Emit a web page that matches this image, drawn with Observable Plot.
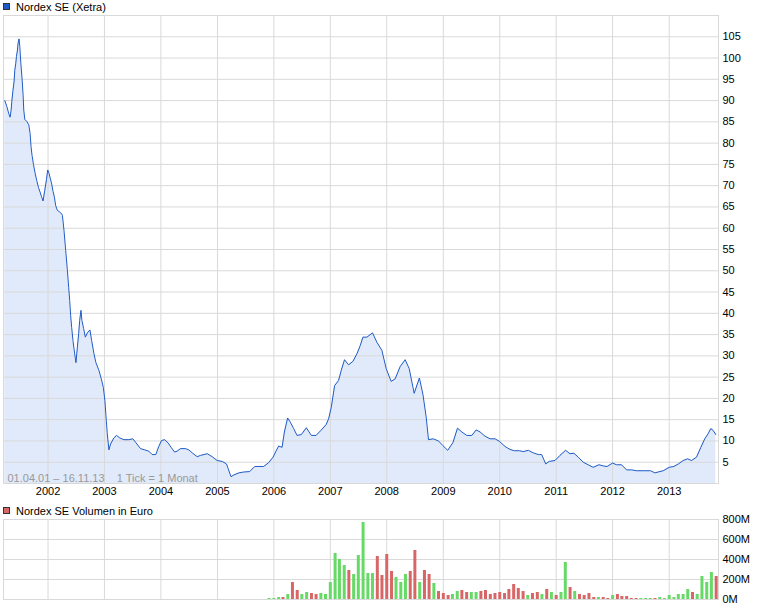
<!DOCTYPE html>
<html><head><meta charset="utf-8">
<script src="https://cdn.jsdelivr.net/npm/d3@7"></script>
<script src="https://cdn.jsdelivr.net/npm/@observablehq/plot@0.6"></script>
<style>
body{margin:0;background:#fff;}
#wrap{position:relative;width:760px;height:608px;font-family:"Liberation Sans",Arial,sans-serif;font-size:11px;color:#000;overflow:hidden;}
#wrap svg{position:absolute;left:0;}
.leg{position:absolute;left:16px;line-height:12px;white-space:nowrap;}
.sw{position:absolute;left:3px;width:5px;height:5px;border:1px solid #333;}
</style>
</head><body>
<div id="wrap"></div>
<script>
// Price (decimal year, EUR)
const priceT = [
2001.234,2001.270,2001.305,2001.328,2001.346,2001.358,2001.376,2001.399,2001.411,2001.429,2001.441,2001.459,2001.469,2001.487,2001.500,2001.517,2001.540,2001.558,2001.570,2001.588,2001.623,2001.659,2001.682,2001.699,2001.717,2001.742,2001.770,2001.800,2001.830,2001.859,2001.883,2001.912,2001.942,2001.972,2001.995,
2002.018,2002.042,2002.065,2002.088,2002.113,2002.136,2002.166,2002.207,2002.242,2002.255,2002.283,2002.313,2002.343,2002.366,2002.384,2002.401,2002.419,2002.442,2002.472,2002.495,2002.520,2002.543,2002.561,2002.584,2002.601,2002.631,2002.661,2002.697,2002.743,2002.773,2002.814,2002.849,2002.902,2002.944,2002.980,
2003.008,2003.033,2003.050,2003.079,2003.109,2003.167,2003.215,2003.273,2003.344,2003.432,2003.503,2003.551,2003.639,2003.715,2003.786,2003.846,2003.910,2003.963,
2004.011,2004.069,2004.129,2004.182,2004.241,2004.288,2004.347,2004.435,2004.494,2004.554,2004.642,2004.701,2004.819,2004.907,2004.996,
2005.084,2005.160,2005.190,2005.240,2005.289,2005.381,2005.466,2005.572,2005.661,2005.820,2005.908,2005.986,
2006.045,2006.085,2006.145,2006.186,2006.244,2006.292,2006.351,2006.411,2006.487,2006.575,2006.664,2006.747,2006.835,2006.924,2006.970,
2007.017,2007.076,2007.146,2007.194,2007.252,2007.323,2007.401,2007.472,2007.530,2007.578,2007.649,2007.748,2007.825,2007.914,2007.990,
2008.078,2008.149,2008.238,2008.326,2008.397,2008.485,2008.577,2008.639,2008.697,2008.738,2008.821,2008.915,2008.993,
2009.078,2009.170,2009.251,2009.329,2009.417,2009.506,2009.582,2009.653,2009.741,2009.829,2009.918,2009.994,
2010.095,2010.183,2010.259,2010.347,2010.418,2010.507,2010.595,2010.683,2010.744,2010.814,2010.878,2010.979,
2011.067,2011.168,2011.244,2011.315,2011.391,2011.479,2011.568,2011.656,2011.757,2011.845,2011.904,2011.999,
2012.070,2012.158,2012.247,2012.335,2012.423,2012.540,2012.671,2012.747,2012.805,2012.894,
2013.000,2013.083,2013.162,2013.248,2013.326,2013.396,2013.485,2013.561,2013.631,2013.690,2013.737,2013.778,2013.826
];
const priceV = [
90,88.6,86.9,86.1,87.7,89.8,92.1,94.6,97.1,98.8,100.4,101.9,103.5,104.5,102.7,99,95.1,91.4,87.8,85.6,85.1,84.3,82.3,79.2,77.1,75,73,71.2,69.6,68.5,67.5,66.4,68.9,71.4,73.7,
72.9,71.6,70.4,68.7,67.3,65.3,64.2,63.8,63.4,63,59.5,54.8,50.1,46.1,43,39.5,36.7,33.6,30.5,28.4,32,35.2,38.3,40.7,38.3,36.4,34.4,35.4,36.1,33.6,30.5,28.4,26.6,24.6,22.6,
19.5,14.8,11.7,7.9,9.3,10.7,11.3,10.7,10.3,10.3,10.5,9.7,8.2,7.9,7.6,6.8,6.8,8.7,
10.1,10.3,9.5,8.5,7.4,7.6,8.2,8.2,7.9,7.2,6.3,6.6,7.0,6.3,5.4,
5.2,4.6,3.5,1.6,2.0,2.5,2.7,2.8,4.0,4.0,4.9,6.2,
7.8,8.8,8.5,12.1,15.4,14.4,12.9,11.3,11.5,13.1,11.3,11.3,12.5,13.8,15.2,
17.9,23.0,24.2,26.6,29.1,27.9,28.7,30.5,32.4,34.4,34.4,35.4,33.2,31.3,27.0,
24.0,24.6,27.5,29.1,27.0,21.2,24.8,21.0,15.6,10.3,10.5,10.0,8.9,
7.8,9.6,13.0,12.1,11.3,11.3,12.6,12.1,11.1,10.5,10.5,9.9,
8.7,8.0,7.7,7.7,7.5,7.8,7.2,6.8,6.8,4.6,5.2,5.4,
6.6,7.8,7.0,7.1,6.2,5.0,4.4,3.8,4.4,4.1,4.0,4.8,
4.4,4.4,3.2,3.2,3.0,3.0,3.0,2.5,2.7,3.0,
3.8,4.0,4.6,5.4,5.8,5.4,6.2,8.5,10.5,11.7,12.9,12.5,11.5
];
// Volume (million EUR per month), u = up month (green), d = down month (red)
const volMonths = [
"2005-12",
"2006-01","2006-02","2006-03","2006-04","2006-05","2006-06","2006-07","2006-08","2006-09","2006-10","2006-11","2006-12",
"2007-01","2007-02","2007-03","2007-04","2007-05","2007-06","2007-07","2007-08","2007-09","2007-10","2007-11","2007-12",
"2008-01","2008-02","2008-03","2008-04","2008-05","2008-06","2008-07","2008-08","2008-09","2008-10","2008-11","2008-12",
"2009-01","2009-02","2009-03","2009-04","2009-05","2009-06","2009-07","2009-08","2009-09","2009-10","2009-11","2009-12",
"2010-01","2010-02","2010-03","2010-04","2010-05","2010-06","2010-07","2010-08","2010-09","2010-10","2010-11","2010-12",
"2011-01","2011-02","2011-03","2011-04","2011-05","2011-06","2011-07","2011-08","2011-09","2011-10","2011-11","2011-12",
"2012-01","2012-02","2012-03","2012-04","2012-05","2012-06","2012-07","2012-08","2012-09","2012-10","2012-11","2012-12",
"2013-01","2013-02","2013-03","2013-04","2013-05","2013-06","2013-07","2013-08","2013-09","2013-10","2013-11"
];
const volValues = [
10,
10,20,20,50,170,90,50,70,60,50,60,50,
170,460,400,340,290,250,440,770,260,260,430,240,
450,280,220,170,250,280,490,170,290,250,160,80,
60,40,50,80,90,70,70,70,80,90,50,60,
70,60,100,150,110,80,40,60,70,50,100,70,
40,70,370,120,80,50,40,60,20,20,20,10,
40,50,30,30,10,10,10,10,10,10,20,10,
40,20,50,50,100,70,50,230,170,270,230
];
const volDir = [
"u",
"u","u","d","u","d","d","u","u","d","d","u","u",
"u","u","u","u","d","u","u","u","u","u","d","d",
"d","d","u","u","u","d","d","u","d","d","u","d",
"d","d","u","u","d","d","u","u","d","d","d","d",
"d","d","d","d","d","d","u","d","d","u","d","u",
"d","u","u","d","u","d","d","d","d","u","d","d",
"u","d","d","d","d","d","u","u","u","d","u","u",
"u","u","u","u","u","d","u","u","u","u","d"
];
const yearTicks = [2002,2003,2004,2005,2006,2007,2008,2009,2010,2011,2012,2013];
const priceTicks = [5,10,15,20,25,30,35,40,45,50,55,60,65,70,75,80,85,90,95,100,105];
const volTicks = [0,200,400,600,800];
const titlePrice = "Nordex SE (Xetra)";
const titleVolume = "Nordex SE Volumen in Euro";
const note = "01.04.01 \u2013 16.11.13\u00a0\u00a0\u00a0 1 Tick = 1 Monat";

function yearToDate(t){const y=Math.floor(t);const a=Date.UTC(y,0,1),b=Date.UTC(y+1,0,1);return new Date(a+(t-y)*(b-a));}
const price = priceT.map((t,i)=>({date:yearToDate(t),value:priceV[i]}));
const volume = volMonths.map((m,i)=>({date:new Date(m+"-01T00:00:00Z"),value:volValues[i],dir:volDir[i]}));
const yearDates = yearTicks.map(y=>new Date(Date.UTC(y,0,1)));
const xDomain = [new Date("2001-03-19T00:00:00Z"), new Date("2013-11-16T00:00:00Z")];
const FONT = '"Liberation Sans", Arial, sans-serif';
const GRID = "#d9d9d9";

const topPlot = Plot.plot({
  width:760, height:500, marginLeft:3, marginRight:42, marginTop:15, marginBottom:17,
  style:{fontFamily:FONT, fontSize:"11px", background:"transparent", color:"#000", overflow:"visible"},
  x:{type:"utc", domain:xDomain, axis:null},
  y:{domain:[0,110], axis:null},
  marks:[
    Plot.areaY(price,{x:"date",y:"value",fill:"#e1eafa"}),
    Plot.gridY(priceTicks,{stroke:GRID,strokeOpacity:1}),
    Plot.gridX(yearDates,{stroke:GRID,strokeOpacity:1}),
    Plot.frame({stroke:GRID}),
    Plot.lineY(price,{x:"date",y:"value",stroke:"#1f5bc6",strokeWidth:1}),
    Plot.axisY(priceTicks,{anchor:"right",tickSize:0,tickPadding:4,label:null}),
    Plot.axisX(yearDates,{tickSize:0,tickPadding:4,tickFormat:d=>String(d.getUTCFullYear()),label:null}),
    Plot.text([note],{frameAnchor:"bottom-left",dx:4,dy:-2,fill:"#999",fontSize:11})
  ]
});
const volPlot = Plot.plot({
  width:760, height:91, marginLeft:3, marginRight:42, marginTop:5, marginBottom:6,
  style:{fontFamily:FONT, fontSize:"11px", background:"transparent", color:"#000", overflow:"visible"},
  x:{type:"utc", domain:xDomain, axis:null},
  y:{domain:[0,800], axis:null},
  color:{domain:["u","d"], range:["#66d966","#d96666"]},
  marks:[
    Plot.gridY(volTicks,{stroke:GRID,strokeOpacity:1}),
    Plot.gridX(yearDates,{stroke:GRID,strokeOpacity:1}),
    Plot.frame({stroke:GRID}),
    Plot.ruleX(volume,{x:"date",y1:0,y2:"value",stroke:"dir",strokeWidth:3}),
    Plot.axisY(volTicks,{anchor:"right",tickSize:0,tickPadding:4,tickFormat:d=>d+"M",label:null})
  ]
});
const wrap = document.getElementById("wrap");
topPlot.style.top = "0px";
volPlot.style.top = "514px";
wrap.appendChild(topPlot);
wrap.appendChild(volPlot);
function legend(text, color, top){
  const sw = document.createElement("div");
  sw.className="sw"; sw.style.top=(top+2)+"px"; sw.style.background=color;
  const t = document.createElement("div");
  t.className="leg"; t.style.top=top+"px"; t.textContent=text;
  wrap.appendChild(sw); wrap.appendChild(t);
}
legend(titlePrice, "#1f5bc6", 1);
legend(titleVolume, "#d96666", 505);
</script>
</body></html>
